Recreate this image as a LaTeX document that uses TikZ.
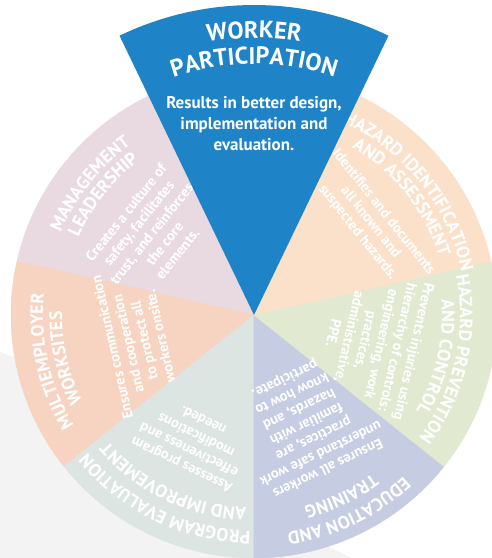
\documentclass[tikz,border=0pt]{standalone}
\usepackage{fontspec}
\setmainfont{PT Sans}
\usetikzlibrary{decorations.text}

\definecolor{wpblau}{RGB}{31,132,199}
\definecolor{fuehrung}{RGB}{233,218,226}
\definecolor{gefahren}{RGB}{251,225,201}
\definecolor{kontrolle}{RGB}{225,233,209}
\definecolor{schulung}{RGB}{198,204,225}
\definecolor{bewertung}{RGB}{221,229,226}
\definecolor{mehrere}{RGB}{246,212,193}
\definecolor{hgrau}{RGB}{243,243,243}

% Titelzeile entlang eines Bogens: Winkel, Radius, Text, Schriftgroesse
\newcommand{\titelzeile}[4]{%
  \path [decorate, decoration={text along path, text align=center, text color=white,
      text={|\bfseries\fontsize{#4}{#4}\selectfont|#3}}]
    (#1+50:#2) arc [start angle=#1+50, end angle=#1-50, radius=#2];
}

\begin{document}
\begin{tikzpicture} [x=1pt, y=1pt,
    koerper/.style={text=white, font=\bfseries\fontsize{14.5}{16.5}\selectfont, align=center}]
    \useasboundingbox (-254,-243) rectangle (238,315);

    % Hintergrund
    \fill [hgrau] (-254,-37) -- (-194,-60) -- (46,-218) -- (98,-243) -- (-254,-243) -- cycle;

    % Keile
    \foreach \a/\farbe in {141.43/fuehrung, 192.86/mehrere, 244.29/bewertung, 295.71/schulung, 347.14/kontrolle, 38.57/gefahren}
        \filldraw [fill=\farbe, draw=\farbe, line width=0.5] (0,0) -- (\a+25.71:243) arc [start angle=\a+25.71, end angle=\a-25.71, radius=243] -- cycle;

    % Management Leadership
    \titelzeile{141.43}{210}{MANAGEMENT}{18}
    \titelzeile{141.43}{192}{LEADERSHIP}{18}
    \node [koerper, rotate=51.43] (fuehrungtext) at (141.43:131) {Creates a culture of\\safety, facilitates\\trust, and reinforces\\the core\\elements.};

    % Multiemployer Worksites
    \titelzeile{192.86}{211}{MULTIEMPLOYER}{18}
    \titelzeile{192.86}{192}{WORKSITES}{18}
    \node [koerper, rotate=102.86] (mehreretext) at (192.86:121) {Ensures communication\\and cooperation\\to protect all\\workers onsite.};

    % Program Evaluation
    \titelzeile{244.29}{216}{PROGRAM EVALUATION}{18}
    \titelzeile{244.29}{193}{AND IMPROVEMENT}{18}
    \node [koerper, rotate=154.29] (bewertungtext) at (244.29:142) {Assesses program\\effectiveness and\\modifications\\needed.};

    % Education and Training
    \titelzeile{295.71}{220}{EDUCATION AND}{18}
    \titelzeile{295.71}{198}{TRAINING}{18}
    \node [koerper, rotate=205.71] (schulungtext) at (295.71:120) {Ensures all workers\\understand safe work\\practices, are\\familiar with\\hazards, and\\know how to\\participate.};

    % Hazard Prevention and Control
    \titelzeile{347.14}{206}{HAZARD PREVENTION}{18}
    \titelzeile{347.14}{188}{AND CONTROL}{18}
    \node [koerper, rotate=257.14] (kontrolletext) at (347.14:123) {Prevents injuries using\\hierarchy of controls:\\engineering, work\\practices,\\administrative,\\PPE.};

    % Hazard Identification and Assessment
    \titelzeile{38.57}{212}{HAZARD IDENTIFICATION}{18}
    \titelzeile{38.57}{194}{AND ASSESSMENT}{18}
    \node [koerper, rotate=-51.43] (gefahrentext) at (38.57:149) {Identifies and documents\\all known and\\suspected hazards.};

    % Worker Participation
    \fill [wpblau] (0,0) -- (115.71:310) arc [start angle=115.71, end angle=64.29, radius=310] -- cycle;
    \titelzeile{90}{277}{WORKER}{24}
    \titelzeile{90}{251}{PARTICIPATION}{24}
    \node [koerper, font=\bfseries\fontsize{17}{21}\selectfont] (teilnahmetext) at (0,191) {Results in better design,\\implementation and\\evaluation.};
\end{tikzpicture}
\end{document}
